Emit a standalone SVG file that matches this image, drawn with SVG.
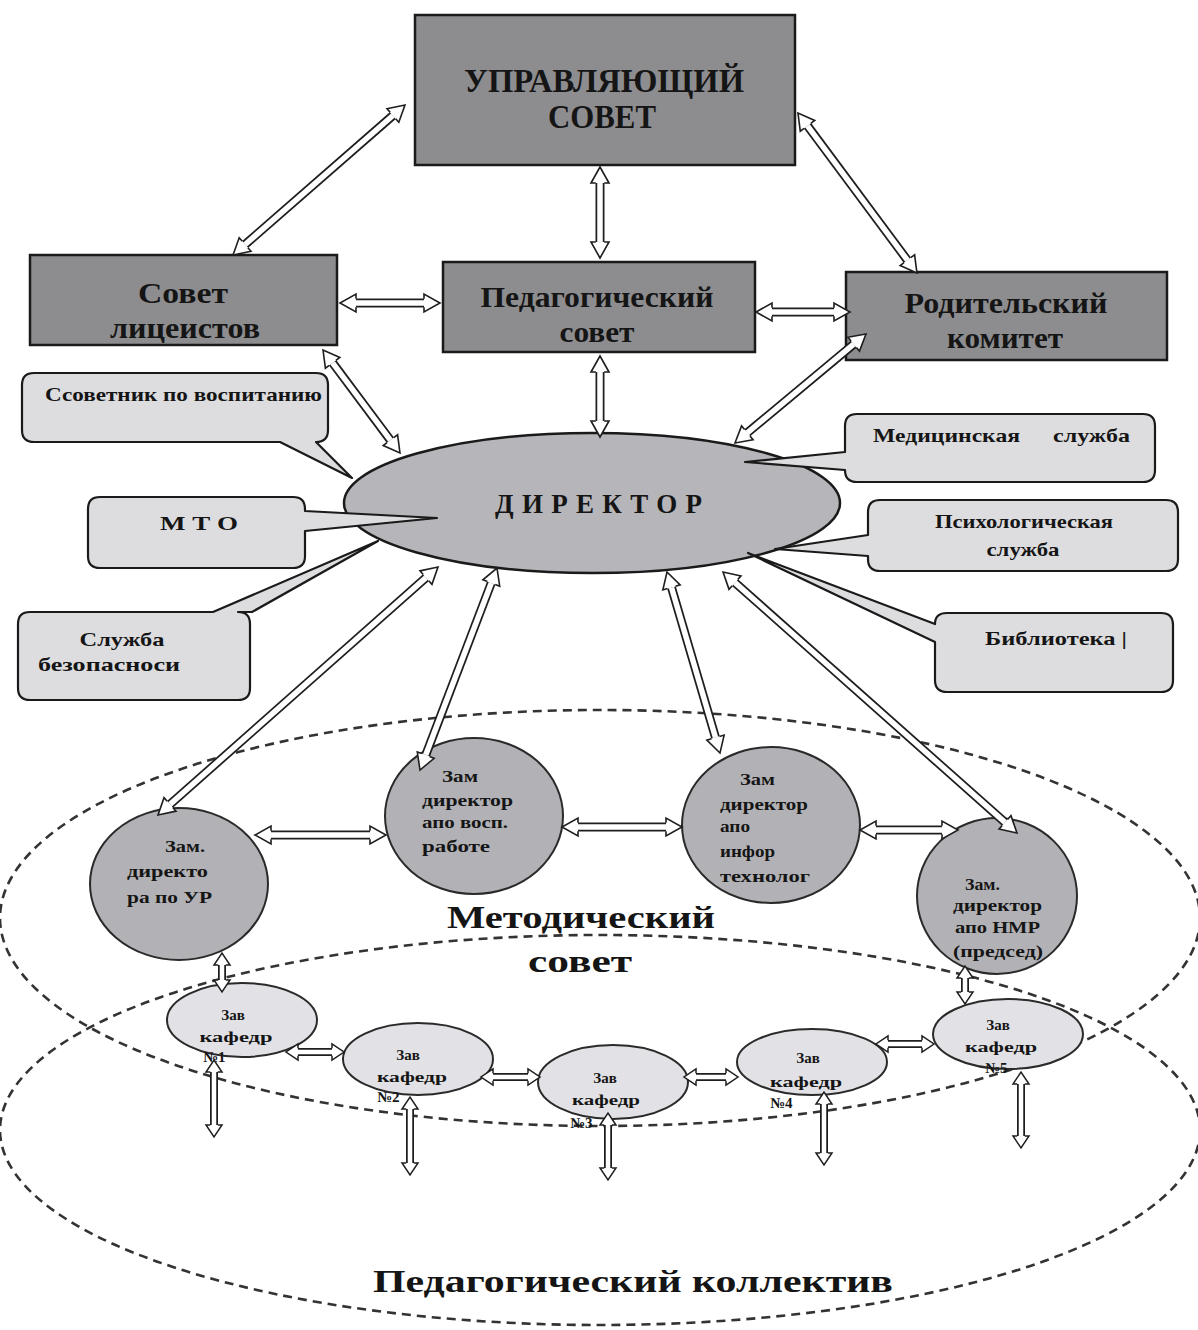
<svg xmlns="http://www.w3.org/2000/svg" width="1198" height="1330" viewBox="0 0 1198 1330">
<defs>
<style>
.box{fill:#8d8d90;stroke:#1a1a1a;stroke-width:2.5}
.call{fill:#dddde0;stroke:#1a1a1a;stroke-width:2.2;stroke-linejoin:round}
.zam{fill:#b2b2b6;stroke:#2a2a2a;stroke-width:2}
.kaf{fill:#e2e2e6;stroke:#2a2a2a;stroke-width:2}
.dir{fill:#b6b6ba;stroke:#1a1a1a;stroke-width:2.5}
.dash{fill:none;stroke:#333;stroke-width:2.6;stroke-dasharray:9 6}
text{font-family:"Liberation Serif","Times New Roman",serif;font-weight:bold;fill:#151515}
.ab{stroke:#1e1e1e;stroke-width:9;fill:none}
.aw{stroke:#fff;stroke-width:5.5;fill:none;marker-start:url(#h);marker-end:url(#h)}
.sb{stroke:#1e1e1e;stroke-width:8;fill:none}
.sw{stroke:#fff;stroke-width:4.5;fill:none;marker-start:url(#hs);marker-end:url(#hs)}
.t1{font-size:34px}
.t2{font-size:29px}
.tc{font-size:19px}
.tz{font-size:16px}
.tk{font-size:15px}
</style>
<marker id="h" markerUnits="userSpaceOnUse" orient="auto-start-reverse" markerWidth="20" markerHeight="20" refX="0" refY="0" overflow="visible">
<path d="M0,-4.2 L0,-9 L16,0 L0,9 L0,4.2" fill="#fff" stroke="#1e1e1e" stroke-width="1.6"/>
</marker>
<marker id="hs" markerUnits="userSpaceOnUse" orient="auto-start-reverse" markerWidth="16" markerHeight="16" refX="0" refY="0" overflow="visible">
<path d="M0,-3.8 L0,-8 L12,0 L0,8 L0,3.8" fill="#fff" stroke="#1e1e1e" stroke-width="1.5"/>
</marker>
</defs>
<rect width="1198" height="1330" fill="#fff"/>

<g id="areas">
<ellipse class="dash" cx="600" cy="918" rx="600" ry="208"/>
<ellipse class="dash" cx="600" cy="1130" rx="600" ry="195"/>
<text x="581" y="928" text-anchor="middle" textLength="268" lengthAdjust="spacingAndGlyphs" font-size="32">Методический</text>
<text x="580" y="972" text-anchor="middle" textLength="104" lengthAdjust="spacingAndGlyphs" font-size="32">совет</text>
<text x="633" y="1292" text-anchor="middle" textLength="520" lengthAdjust="spacingAndGlyphs" font-size="31">Педагогический  коллектив</text>
</g>

<g id="upr-sovet">
<rect class="box" x="415" y="15" width="380" height="150"/>
<text class="t1" x="604" y="92" text-anchor="middle" textLength="280" lengthAdjust="spacingAndGlyphs">УПРАВЛЯЮЩИЙ</text>
<text class="t1" x="602" y="128" text-anchor="middle" textLength="108" lengthAdjust="spacingAndGlyphs">СОВЕТ</text>
</g>
<g id="sovet-liceistov">
<rect class="box" x="30" y="255" width="307" height="90"/>
<text class="t2" x="183" y="303" text-anchor="middle" textLength="90" lengthAdjust="spacingAndGlyphs">Совет</text>
<text class="t2" x="185" y="338" text-anchor="middle" textLength="150" lengthAdjust="spacingAndGlyphs">лицеистов</text>
</g>
<g id="ped-sovet">
<rect class="box" x="443" y="262" width="312" height="90"/>
<text class="t2" x="597" y="307" text-anchor="middle" textLength="233" lengthAdjust="spacingAndGlyphs">Педагогический</text>
<text class="t2" x="597" y="342" text-anchor="middle" textLength="75" lengthAdjust="spacingAndGlyphs">совет</text>
</g>
<g id="rod-komitet">
<rect class="box" x="846" y="272" width="321" height="88"/>
<text class="t2" x="1006" y="313" text-anchor="middle" textLength="203" lengthAdjust="spacingAndGlyphs">Родительский</text>
<text class="t2" x="1005" y="348" text-anchor="middle" textLength="116" lengthAdjust="spacingAndGlyphs">комитет</text>
</g>

<g id="direktor">
<ellipse class="dir" cx="592" cy="503" rx="248" ry="70"/>
<text x="495" y="513" textLength="207" lengthAdjust="spacing" font-size="27">ДИРЕКТОР</text>
</g>

<g id="sovetnik">
<path class="call" d="M34,373 H316 Q328,373 328,385 V430 Q328,442 316,442 L352,478 L280,442 H34 Q22,442 22,430 V385 Q22,373 34,373 Z"/>
<text class="tc" x="45" y="401" textLength="277" lengthAdjust="spacingAndGlyphs">Ссоветник по воспитанию</text>
</g>
<g id="mto">
<path class="call" d="M100,497 H293 Q305,497 305,509 V511 L437,518 L305,531 V556 Q305,568 293,568 H100 Q88,568 88,556 V509 Q88,497 100,497 Z"/>
<text class="tc" x="199" y="530" text-anchor="middle" textLength="78" lengthAdjust="spacingAndGlyphs">М Т О</text>
</g>
<g id="bezopasnost">
<path class="call" d="M30,612 H213 L378,541 L252,612 H238 Q250,612 250,624 V688 Q250,700 238,700 H30 Q18,700 18,688 V624 Q18,612 30,612 Z"/>
<text class="tc" x="122" y="646" text-anchor="middle" textLength="85" lengthAdjust="spacingAndGlyphs">Служба</text>
<text class="tc" x="109" y="671" text-anchor="middle" textLength="142" lengthAdjust="spacingAndGlyphs">безопасноси</text>
</g>
<g id="med">
<path class="call" d="M857,414 H1143 Q1155,414 1155,426 V470 Q1155,482 1143,482 H857 Q845,482 845,470 L745,462 L845,452 V426 Q845,414 857,414 Z"/>
<text class="tc" x="873" y="442" textLength="147" lengthAdjust="spacingAndGlyphs">Медицинская</text>
<text class="tc" x="1053" y="442" textLength="77" lengthAdjust="spacingAndGlyphs">служба</text>
</g>
<g id="psih">
<path class="call" d="M880,500 H1166 Q1178,500 1178,512 V559 Q1178,571 1166,571 H880 Q868,571 868,559 V556 L775,549 L868,535 V512 Q868,500 880,500 Z"/>
<text class="tc" x="1024" y="528" text-anchor="middle" textLength="178" lengthAdjust="spacingAndGlyphs">Психологическая</text>
<text class="tc" x="1023" y="556" text-anchor="middle" textLength="73" lengthAdjust="spacingAndGlyphs">служба</text>
</g>
<g id="biblioteka">
<path class="call" d="M947,613 H1161 Q1173,613 1173,625 V680 Q1173,692 1161,692 H947 Q935,692 935,680 V642 L748,553 L935,624 Q935,613 947,613 Z"/>
<text class="tc" x="985" y="645" textLength="142" lengthAdjust="spacingAndGlyphs">Библиотека |</text>
</g>

<g id="zam-ur">
<ellipse class="zam" cx="179" cy="884" rx="89" ry="76"/>
<text class="tz" x="165" y="852" textLength="40" lengthAdjust="spacingAndGlyphs">Зам.</text>
<text class="tz" x="127" y="877" textLength="81" lengthAdjust="spacingAndGlyphs">директо</text>
<text class="tz" x="127" y="903" textLength="85" lengthAdjust="spacingAndGlyphs">ра по УР</text>
</g>
<g id="zam-vr">
<ellipse class="zam" cx="474" cy="816" rx="89" ry="78"/>
<text class="tz" x="442" y="782" textLength="36" lengthAdjust="spacingAndGlyphs">Зам</text>
<text class="tz" x="422" y="806" textLength="91" lengthAdjust="spacingAndGlyphs">директор</text>
<text class="tz" x="422" y="828" textLength="86" lengthAdjust="spacingAndGlyphs">апо восп.</text>
<text class="tz" x="422" y="852" textLength="68" lengthAdjust="spacingAndGlyphs">работе</text>
</g>
<g id="zam-it">
<ellipse class="zam" cx="771" cy="825" rx="89" ry="78"/>
<text class="tz" x="740" y="785" textLength="35" lengthAdjust="spacingAndGlyphs">Зам</text>
<text class="tz" x="720" y="810" textLength="88" lengthAdjust="spacingAndGlyphs">директор</text>
<text class="tz" x="720" y="832" textLength="30" lengthAdjust="spacingAndGlyphs">апо</text>
<text class="tz" x="720" y="857" textLength="55" lengthAdjust="spacingAndGlyphs">инфор</text>
<text class="tz" x="720" y="882" textLength="90" lengthAdjust="spacingAndGlyphs">технолог</text>
</g>
<g id="zam-nmr">
<ellipse class="zam" cx="997" cy="896" rx="80" ry="78"/>
<text class="tz" x="965" y="890" textLength="35" lengthAdjust="spacingAndGlyphs">Зам.</text>
<text class="tz" x="953" y="911" textLength="89" lengthAdjust="spacingAndGlyphs">директор</text>
<text class="tz" x="955" y="933" textLength="85" lengthAdjust="spacingAndGlyphs">апо НМР</text>
<text class="tz" x="953" y="957" textLength="90" lengthAdjust="spacingAndGlyphs">(председ)</text>
</g>

<g id="kaf1">
<ellipse class="kaf" cx="242" cy="1020" rx="75" ry="37"/>
<text class="tk" x="233" y="1020" text-anchor="middle">Зав</text>
<text class="tk" x="236" y="1042" text-anchor="middle" textLength="73" lengthAdjust="spacingAndGlyphs">кафедр</text>
<text class="tk" x="203" y="1062">№1</text>
</g>
<g id="kaf2">
<ellipse class="kaf" cx="418" cy="1059" rx="75" ry="36"/>
<text class="tk" x="408" y="1060" text-anchor="middle">Зав</text>
<text class="tk" x="412" y="1082" text-anchor="middle" textLength="70" lengthAdjust="spacingAndGlyphs">кафедр</text>
<text class="tk" x="377" y="1102">№2</text>
</g>
<g id="kaf3">
<ellipse class="kaf" cx="613" cy="1082" rx="75" ry="37"/>
<text class="tk" x="605" y="1083" text-anchor="middle">Зав</text>
<text class="tk" x="606" y="1105" text-anchor="middle" textLength="68" lengthAdjust="spacingAndGlyphs">кафедр</text>
<text class="tk" x="570" y="1128">№3</text>
</g>
<g id="kaf4">
<ellipse class="kaf" cx="812" cy="1062" rx="75" ry="33"/>
<text class="tk" x="808" y="1063" text-anchor="middle">Зав</text>
<text class="tk" x="806" y="1087" text-anchor="middle" textLength="72" lengthAdjust="spacingAndGlyphs">кафедр</text>
<text class="tk" x="770" y="1108">№4</text>
</g>
<g id="kaf5">
<ellipse class="kaf" cx="1008" cy="1034" rx="75" ry="35"/>
<text class="tk" x="998" y="1030" text-anchor="middle">Зав</text>
<text class="tk" x="1001" y="1052" text-anchor="middle" textLength="72" lengthAdjust="spacingAndGlyphs">кафедр</text>
<text class="tk" x="985" y="1073">№5</text>
</g>

<g id="connectors">
<line class="ab" x1="392.9" y1="115.5" x2="245.1" y2="244.5"/><line class="aw" x1="392.9" y1="115.5" x2="245.1" y2="244.5"/>
<line class="ab" x1="600" y1="183" x2="600" y2="242"/><line class="aw" x1="600" y1="183" x2="600" y2="242"/>
<line class="ab" x1="807.5" y1="125.8" x2="907.4" y2="260.2"/><line class="aw" x1="807.5" y1="125.8" x2="907.4" y2="260.2"/>
<line class="ab" x1="356" y1="303" x2="424" y2="303"/><line class="aw" x1="356" y1="303" x2="424" y2="303"/>
<line class="ab" x1="772" y1="312" x2="834" y2="312"/><line class="aw" x1="772" y1="312" x2="834" y2="312"/>
<line class="ab" x1="332.6" y1="362.8" x2="390.4" y2="440.2"/><line class="aw" x1="332.6" y1="362.8" x2="390.4" y2="440.2"/>
<line class="ab" x1="600" y1="372" x2="600" y2="421"/><line class="aw" x1="600" y1="372" x2="600" y2="421"/>
<line class="ab" x1="853.7" y1="344.2" x2="747.3" y2="432.8"/><line class="aw" x1="853.7" y1="344.2" x2="747.3" y2="432.8"/>
<line class="ab" x1="426" y1="577.6" x2="170" y2="804.4"/><line class="aw" x1="426" y1="577.6" x2="170" y2="804.4"/>
<line class="ab" x1="491.3" y1="583" x2="425.7" y2="755.1"/><line class="aw" x1="491.3" y1="583" x2="425.7" y2="755.1"/>
<line class="ab" x1="671.5" y1="587.4" x2="715.5" y2="737.6"/><line class="aw" x1="671.5" y1="587.4" x2="715.5" y2="737.6"/>
<line class="ab" x1="735" y1="582.6" x2="1005" y2="822.4"/><line class="aw" x1="735" y1="582.6" x2="1005" y2="822.4"/>
<line class="ab" x1="271" y1="835" x2="370" y2="835"/><line class="aw" x1="271" y1="835" x2="370" y2="835"/>
<line class="ab" x1="578" y1="827" x2="666" y2="827"/><line class="aw" x1="578" y1="827" x2="666" y2="827"/>
<line class="ab" x1="876" y1="830" x2="942" y2="830"/><line class="aw" x1="876" y1="830" x2="942" y2="830"/>
<line class="sb" x1="222" y1="965" x2="222" y2="980"/><line class="sw" x1="222" y1="965" x2="222" y2="980"/>
<line class="sb" x1="965" y1="978" x2="965" y2="992"/><line class="sw" x1="965" y1="978" x2="965" y2="992"/>
<line class="sb" x1="298" y1="1052" x2="332" y2="1052"/><line class="sw" x1="298" y1="1052" x2="332" y2="1052"/>
<line class="sb" x1="493" y1="1077" x2="528" y2="1077"/><line class="sw" x1="493" y1="1077" x2="528" y2="1077"/>
<line class="sb" x1="696" y1="1077" x2="726" y2="1077"/><line class="sw" x1="696" y1="1077" x2="726" y2="1077"/>
<line class="sb" x1="888" y1="1044" x2="922" y2="1044"/><line class="sw" x1="888" y1="1044" x2="922" y2="1044"/>
<line class="sb" x1="214" y1="1072" x2="214" y2="1125"/><line class="sw" x1="214" y1="1072" x2="214" y2="1125"/>
<line class="sb" x1="410" y1="1109" x2="410" y2="1163"/><line class="sw" x1="410" y1="1109" x2="410" y2="1163"/>
<line class="sb" x1="608" y1="1125" x2="608" y2="1168"/><line class="sw" x1="608" y1="1125" x2="608" y2="1168"/>
<line class="sb" x1="824" y1="1104" x2="824" y2="1153"/><line class="sw" x1="824" y1="1104" x2="824" y2="1153"/>
<line class="sb" x1="1021" y1="1084" x2="1021" y2="1136"/><line class="sw" x1="1021" y1="1084" x2="1021" y2="1136"/>
</g>
</svg>
